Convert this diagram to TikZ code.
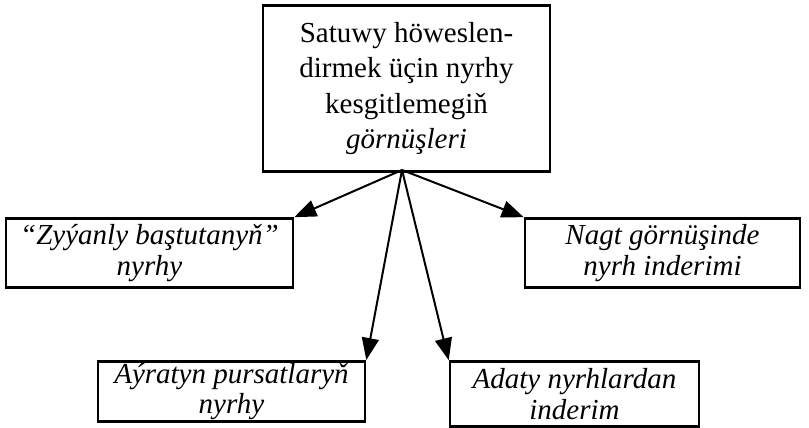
\documentclass[tikz,border=0pt]{standalone}
\usepackage{fontspec}
\setmainfont{Liberation Serif}
\usetikzlibrary{arrows.meta}
\begin{document}
\begin{tikzpicture}[x=1pt,y=-1pt,
  box/.style={draw, line width=2.6pt, inner sep=2pt, align=center, font=\fontsize{29}{35.5}\selectfont},
  low/.style={box, font=\itshape\fontsize{29}{31}\selectfont},
  arr/.style={line width=2pt, -{Triangle[length=22pt,width=17pt]}}]
\useasboundingbox (0,0) rectangle (809,428);
\node[box, minimum width=287pt, minimum height=166pt] (top) at (406.5,88.5)
  {Satuwy höweslen-\\dirmek üçin nyrhy\\kesgitlemegiň\\\textit{görnüşleri}};
\node[low, minimum width=287pt, minimum height=69pt] (z) at (149.5,253)
  {“Zyýanly baştutanyň”\\nyrhy};
\node[low, minimum width=275pt, minimum height=69pt] (n) at (662.5,253)
  {Nagt görnüşinde\\nyrh inderimi};
\node[low, minimum width=267pt, minimum height=59pt, font=\itshape\fontsize{29}{30}\selectfont] (a) at (231.5,391.5)
  {Aýratyn pursatlaryň\\nyrhy};
\node[low, minimum width=249pt, minimum height=65pt] (d) at (574.5,394)
  {Adaty nyrhlardan\\inderim};
\coordinate (s) at (402,170);
\draw[arr] (s) -- (z.north east);
\draw[arr] (s) -- (n.north west);
\draw[arr] (s) -- (a.north east);
\draw[arr] (s) -- (d.north west);
\end{tikzpicture}
\end{document}
